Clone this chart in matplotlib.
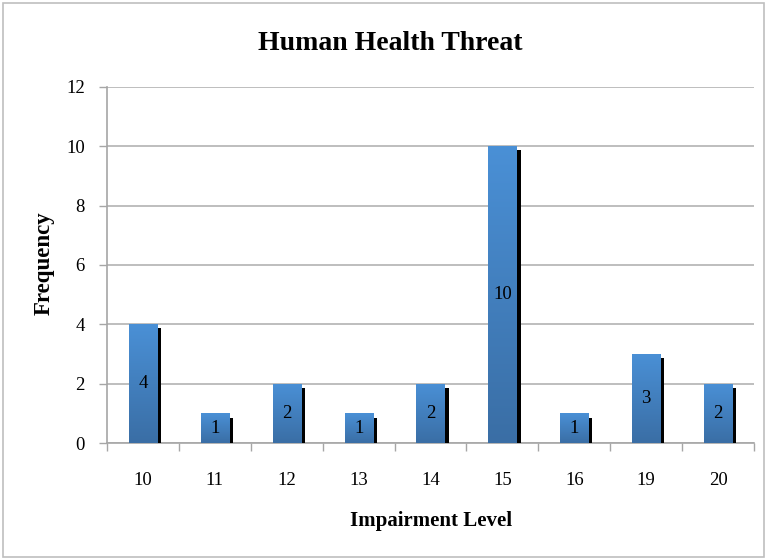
import numpy as np
import matplotlib
matplotlib.use("Agg")
import matplotlib.pyplot as plt
from matplotlib.patches import Rectangle
import matplotlib.patheffects as pe

levels = ["10", "11", "12", "13", "14", "15", "16", "19", "20"]
counts = [4, 1, 2, 1, 2, 10, 1, 3, 2]
y_ticks = [0, 2, 4, 6, 8, 10, 12]

serif = ["Liberation Serif", "DejaVu Serif"]

fig = plt.figure(figsize=(7.67, 5.59), dpi=100)
fig.patches.append(Rectangle((0.004, 0.004), 0.992, 0.99, transform=fig.transFigure,
                             fill=False, edgecolor="#bfbfbf", linewidth=1.2))
ax = fig.add_axes([0.1395, 0.2075, 0.8435, 0.637])

x = np.arange(len(levels))
width = 0.39
bars = ax.bar(x, counts, width=width, color="#4283c9", zorder=3,
              path_effects=[pe.SimplePatchShadow(offset=(3, -3), shadow_rgbFace="black", alpha=1.0),
                            pe.Normal()])

# vertical blue gradient inside each bar
grad = np.linspace(0, 1, 256).reshape(-1, 1)
cmap = matplotlib.colors.LinearSegmentedColormap.from_list("bluegrad", ["#3a6ea5", "#4a90d6"])
for b in bars:
    bx, by, bw, bh = b.get_x(), b.get_y(), b.get_width(), b.get_height()
    im = ax.imshow(grad, cmap=cmap, origin="lower", aspect="auto",
                   extent=(bx, bx + bw, by, by + bh), zorder=3.5)
    im.set_clip_path(b)

for xi, c in zip(x, counts):
    ax.text(xi, c / 2, str(c), ha="center", va="center", fontsize=13.5,
            family=serif, color="black", zorder=5)

ax.set_xlim(-0.5, len(levels) - 0.5)
ax.set_ylim(0, 12)
ax.set_yticks(y_ticks)
ax.set_yticklabels([str(t) for t in y_ticks], family=serif, fontsize=13.5)
ax.set_xticks(x)
ax.set_xticklabels(levels, family=serif, fontsize=13.5)
ax.set_xticks(np.arange(-0.5, len(levels), 1), minor=True)
ax.tick_params(axis="x", which="major", length=0, pad=21)
ax.tick_params(axis="x", which="minor", length=6, color="#a6a6a6", width=1)
ax.tick_params(axis="y", length=6, color="#a6a6a6", width=1, pad=10)
ax.grid(axis="y", color="#b3b3b3", linewidth=1.2, zorder=0)
ax.set_axisbelow(True)
for side in ["top", "right"]:
    ax.spines[side].set_visible(False)
for side in ["left", "bottom"]:
    ax.spines[side].set_color("#a6a6a6")
    ax.spines[side].set_linewidth(1.2)

fig.text(0.509, 0.922, "Human Health Threat", ha="center", va="center",
         fontsize=20, fontweight="bold", family=serif)
fig.text(0.5625, 0.068, "Impairment Level", ha="center", va="center",
         fontsize=15, fontweight="bold", family=serif)
fig.text(0.058, 0.53, "Frequency", ha="center", va="center", rotation=90,
         fontsize=16.5, fontweight="bold", family=serif)

fig.savefig("out.png", dpi=100)
